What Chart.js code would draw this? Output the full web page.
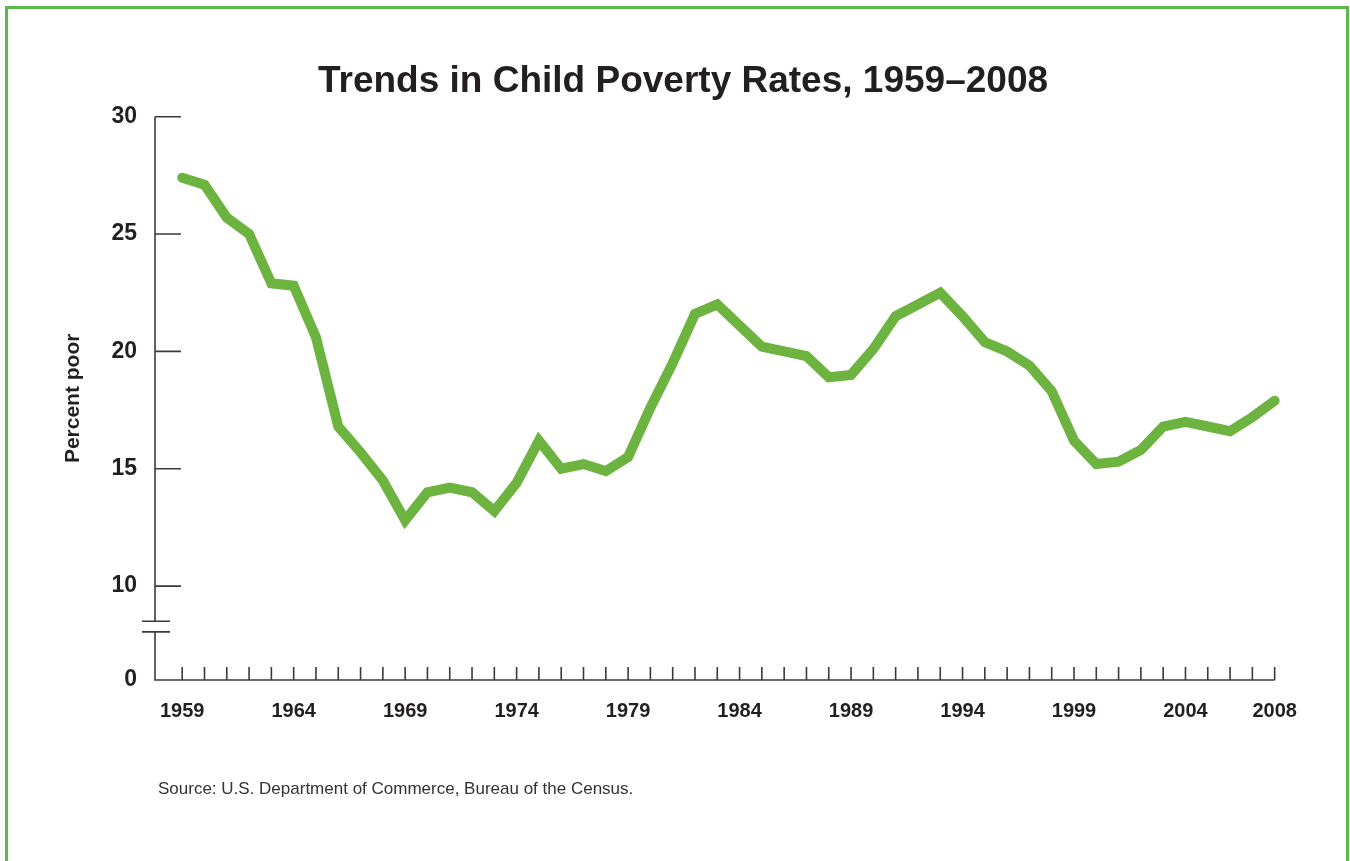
<!DOCTYPE html>
<html>
<head>
<meta charset="utf-8">
<title>Trends in Child Poverty Rates, 1959–2008</title>
<script src="https://cdn.jsdelivr.net/npm/chart.js@4.4.1/dist/chart.umd.min.js"></script>
<style>
  html, body { margin: 0; padding: 0; background: #fff; overflow: hidden; }
  #frame {
    position: absolute; left: 5px; top: 6px;
    width: 1338px; height: 900px;
    border: 3px solid #5cb84a; border-bottom: none;
  }
  #povertyChart { position: absolute; left: 0; top: 0; }
</style>
</head>
<body>
<div id="frame"></div>
<canvas id="povertyChart" width="1350" height="861"></canvas>
<script>
const years = [
  1959, 1960, 1961, 1962, 1963, 1964, 1965, 1966, 1967, 1968,
  1969, 1970, 1971, 1972, 1973, 1974, 1975, 1976, 1977, 1978,
  1979, 1980, 1981, 1982, 1983, 1984, 1985, 1986, 1987, 1988,
  1989, 1990, 1991, 1992, 1993, 1994, 1995, 1996, 1997, 1998,
  1999, 2000, 2001, 2002, 2003, 2004, 2005, 2006, 2007, 2008
];
const povertyRate = [
  27.4, 27.1, 25.7, 25.0, 22.9, 22.8, 20.6, 16.8, 15.7, 14.5,
  12.8, 14.0, 14.2, 14.0, 13.2, 14.4, 16.2, 15.0, 15.2, 14.9,
  15.5, 17.6, 19.5, 21.6, 22.0, 21.1, 20.2, 20.0, 19.8, 18.9,
  19.0, 20.1, 21.5, 22.0, 22.5, 21.5, 20.4, 20.0, 19.4, 18.3,
  16.2, 15.2, 15.3, 15.8, 16.8, 17.0, 16.8, 16.6, 17.2, 17.9
];
const xTickYears = [1959, 1964, 1969, 1974, 1979, 1984, 1989, 1994, 1999, 2004, 2008];
// the axis is broken below 10, so the bottom of the scale is labelled 0
const yTickValues = [6, 10, 15, 20, 25, 30];
const yTickLabels = ["0", "10", "15", "20", "25", "30"];
const axisBreak = [8.05, 8.5];

const FONT = "'Liberation Sans', Arial, sans-serif";
const INK = "#231f20";

// axis lines, inward tick marks and the break symbol on the y axis
const axisMarks = {
  id: "axisMarks",
  afterDatasetsDraw(chart) {
    const { ctx, chartArea, scales: { x, y } } = chart;
    const left = chartArea.left;
    const bottom = chartArea.bottom;
    const xEnd = x.getPixelForValue(years[years.length - 1]);
    ctx.save();
    ctx.strokeStyle = "#3b3b3b";
    ctx.lineWidth = 1.6;
    ctx.beginPath();
    ctx.moveTo(left, y.getPixelForValue(y.max));
    ctx.lineTo(left, y.getPixelForValue(axisBreak[1]));
    ctx.moveTo(left, y.getPixelForValue(axisBreak[0]));
    ctx.lineTo(left, bottom);
    ctx.lineTo(xEnd, bottom);
    yTickValues.forEach(v => {
      if (v === y.min) return;
      const py = y.getPixelForValue(v);
      ctx.moveTo(left, py);
      ctx.lineTo(left + 26, py);
    });
    years.forEach(yr => {
      const px = x.getPixelForValue(yr);
      ctx.moveTo(px, bottom);
      ctx.lineTo(px, bottom - 13);
    });
    axisBreak.forEach(v => {
      const py = y.getPixelForValue(v);
      ctx.moveTo(left - 13, py);
      ctx.lineTo(left + 15, py);
    });
    ctx.stroke();
    ctx.restore();
  }
};

const sourceNote = {
  id: "sourceNote",
  afterDraw(chart) {
    const ctx = chart.ctx;
    ctx.save();
    ctx.font = "17px " + FONT;
    ctx.fillStyle = "#333";
    ctx.textBaseline = "alphabetic";
    ctx.fillText("Source: U.S. Department of Commerce, Bureau of the Census.", 158, 794);
    ctx.restore();
  }
};

new Chart(document.getElementById("povertyChart"), {
  type: "line",
  data: {
    datasets: [{
      label: "Percent poor",
      data: years.map((yr, i) => ({ x: yr, y: povertyRate[i] })),
      borderColor: "#6cb33f",
      borderWidth: 10,
      borderCapStyle: "round",
      borderJoinStyle: "miter",
      pointRadius: 0,
      tension: 0,
      fill: false
    }]
  },
  options: {
    responsive: false,
    animation: false,
    layout: { padding: { left: 20, right: 4, top: 0, bottom: 0 } },
    plugins: {
      legend: { display: false },
      tooltip: { enabled: false },
      title: {
        display: true,
        text: "Trends in Child Poverty Rates, 1959–2008",
        color: INK,
        font: { family: FONT, size: 37, weight: "bold", lineHeight: 1.2 },
        padding: { top: 60, bottom: 12.3 }
      }
    },
    scales: {
      x: {
        type: "linear",
        min: 1957.78,
        max: 2011.2,
        grid: { display: false, drawTicks: false },
        border: { display: false },
        afterBuildTicks: s => { s.ticks = xTickYears.map(v => ({ value: v })); },
        afterFit: s => { s.height = 181; },
        ticks: {
          padding: 19,
          color: INK,
          autoSkip: false,
          maxRotation: 0,
          font: { family: FONT, size: 20, weight: "bold" },
          callback: v => String(v)
        }
      },
      y: {
        min: 6,
        max: 30,
        grid: { display: false, drawTicks: false },
        border: { display: false },
        afterBuildTicks: s => { s.ticks = yTickValues.map(v => ({ value: v })); },
        afterFit: s => { s.width = 135; },
        ticks: {
          padding: 18,
          color: INK,
          autoSkip: false,
          font: { family: FONT, size: 23, weight: "bold" },
          callback: v => yTickLabels[yTickValues.indexOf(v)]
        },
        title: {
          display: true,
          text: "Percent poor",
          color: INK,
          font: { family: FONT, size: 21, weight: "bold", lineHeight: 1.2 },
          padding: { top: 41, bottom: 0 }
        }
      }
    }
  },
  plugins: [axisMarks, sourceNote]
});
</script>
</body>
</html>
